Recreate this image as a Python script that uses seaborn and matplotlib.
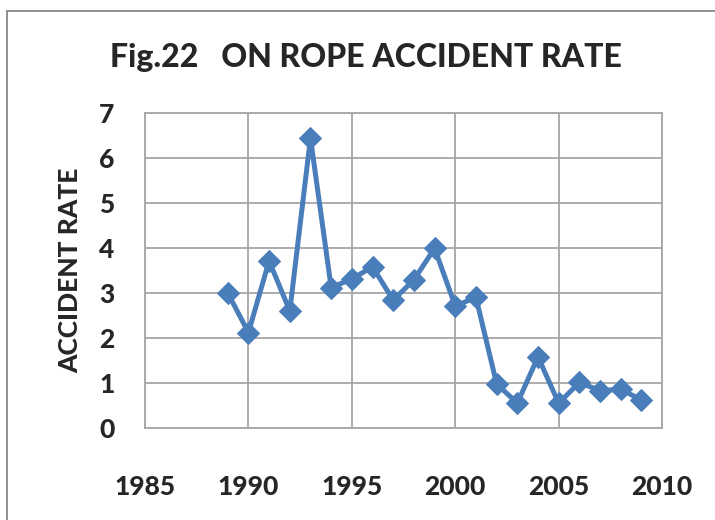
import pandas as pd
import matplotlib.pyplot as plt
import seaborn as sns
from matplotlib.patches import Rectangle

# Data
years = [1989, 1990, 1991, 1992, 1993, 1994, 1995, 1996, 1997, 1998, 1999,
         2000, 2001, 2002, 2003, 2004, 2005, 2006, 2007, 2008, 2009]
rates = [3.0, 2.12, 3.71, 2.60, 6.44, 3.12, 3.31, 3.58, 2.84, 3.29, 3.99,
         2.71, 2.90, 0.98, 0.55, 1.58, 0.55, 1.01, 0.83, 0.86, 0.62]
x_ticks = [1985, 1990, 1995, 2000, 2005, 2010]
y_ticks = [0, 1, 2, 3, 4, 5, 6, 7]

df = pd.DataFrame({'Year': years, 'Rate': rates})

sns.set_style('white')
plt.rcParams['font.family'] = ['Lato', 'DejaVu Sans']
plt.rcParams['font.weight'] = 'black'

fig = plt.figure(figsize=(7.15, 5.2), dpi=100)
ax = fig.add_axes([0.2028, 0.177, 0.7232, 0.606])

sns.lineplot(data=df, x='Year', y='Rate', ax=ax, color='#4A7EBB',
             linewidth=3.6, marker='D', markersize=11,
             markeredgecolor='#4A7EBB')

ax.set_xlim(1985, 2010)
ax.set_ylim(0, 7)
ax.set_xticks(x_ticks)
ax.set_yticks(y_ticks)
ax.tick_params(axis='both', length=0, labelsize=19)
ax.tick_params(axis='x', pad=34)
ax.tick_params(axis='y', pad=22)
ax.grid(True, color='#A6A6A6', linewidth=1.3)
for s in ax.spines.values():
    s.set_color('#A6A6A6')
    s.set_linewidth(1.3)
ax.set_xlabel('')
ax.set_ylabel('ACCIDENT RATE', fontsize=19, fontweight='black', labelpad=12)

fig.text(0.512, 0.89, 'Fig.22   ON ROPE ACCIDENT RATE', ha='center',
         va='center', fontsize=23, fontweight='black')

# outer chart border
fig.patches.append(Rectangle((7 / 715, -0.1), 1.2, (520 - 11) / 520 + 0.1,
                             transform=fig.transFigure, fill=False,
                             edgecolor='#888888', linewidth=1.3))

fig.savefig('out.png', dpi=100)
